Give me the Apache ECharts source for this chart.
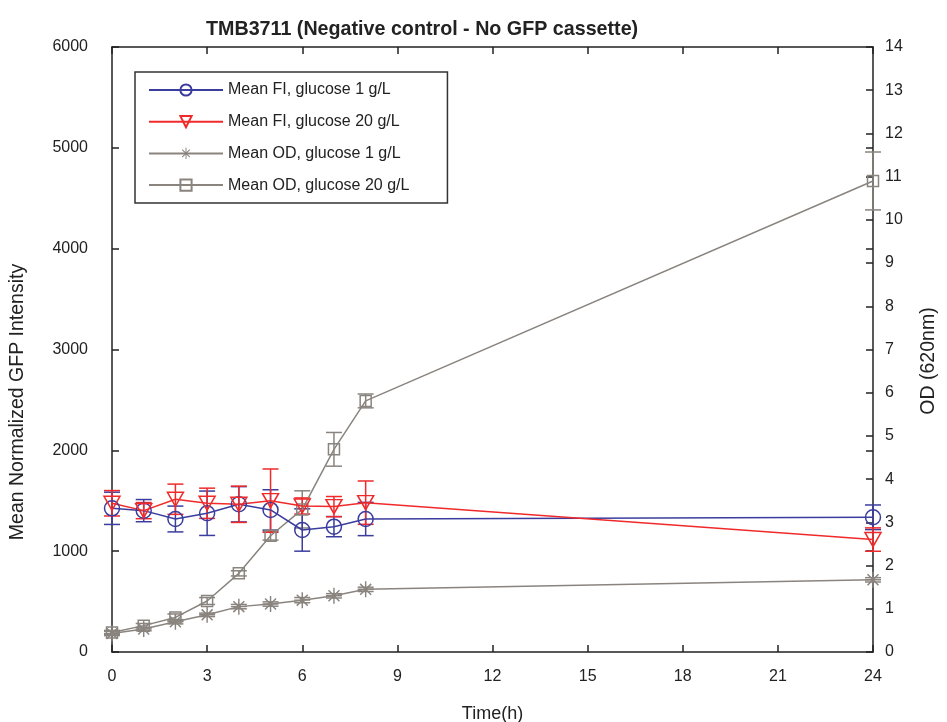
<!DOCTYPE html>
<html>
<head>
<meta charset="utf-8">
<script src="https://cdn.jsdelivr.net/npm/echarts@6/dist/echarts.min.js"></script>
<style>
  html, body { margin: 0; padding: 0; background: #fff; }
  #chart { width: 947px; height: 722px; }
</style>
</head>
<body>
<div id="chart"></div>
<script>
// hours sampled
const time = [0, 1, 2, 3, 4, 5, 6, 7, 8, 24];

// mean fluorescence (left axis) with +/- error
const fi1 = [1425, 1402, 1319, 1376, 1465, 1409, 1210, 1243, 1319, 1336];
const fi1Err = [160, 110, 128, 220, 175, 200, 210, 100, 165, 122];
const fi20 = [1475, 1402, 1515, 1475, 1465, 1501, 1448, 1442, 1481, 1115];
const fi20Err = [126, 80, 150, 150, 180, 314, 80, 100, 215, 116];

// mean OD (right axis) with +/- error
const od1 = [0.43, 0.53, 0.70, 0.86, 1.05, 1.11, 1.20, 1.30, 1.45, 1.67];
const od1Err = [0.05, 0.04, 0.05, 0.04, 0.05, 0.05, 0.06, 0.05, 0.05, 0.05];
const od20 = [0.45, 0.61, 0.80, 1.18, 1.82, 2.69, 3.30, 4.69, 5.81, 10.9];
const od20Err = [0.05, 0.05, 0.08, 0.08, 0.06, 0.10, 0.43, 0.39, 0.16, 0.67];

const blue = "#3b3d9e";
const red = "#f02a2a";
const gray = "#8a847f";
const ink = "#222";
const font = "Liberation Sans, Arial, sans-serif";

const starPath = "path://M0 9.1L20 9.1L20 10.9L0 10.9Z M9.1 0L10.9 0L10.9 20L9.1 20Z " +
  "M2.5 3.8L3.8 2.5L17.5 16.2L16.2 17.5Z M16.2 2.5L17.5 3.8L3.8 17.5L2.5 16.2Z";

const pairs = (vals) => time.map((t, i) => [t, vals[i]]);
const ranges = (vals, errs) => time.map((t, i) => [t, vals[i] - errs[i], vals[i] + errs[i]]);

const errorBars = (color) => (params, api) => {
  const x = api.value(0);
  const lo = api.coord([x, api.value(1)]);
  const hi = api.coord([x, api.value(2)]);
  const w = 8;
  const style = { stroke: color, lineWidth: 1.5 };
  return {
    type: "group",
    children: [
      { type: "line", shape: { x1: lo[0], y1: lo[1], x2: hi[0], y2: hi[1] }, style },
      { type: "line", shape: { x1: lo[0] - w, y1: lo[1], x2: lo[0] + w, y2: lo[1] }, style },
      { type: "line", shape: { x1: hi[0] - w, y1: hi[1], x2: hi[0] + w, y2: hi[1] }, style },
    ],
  };
};

const chart = echarts.init(document.getElementById("chart"));

const axisLine = { show: true, onZero: false, lineStyle: { color: ink, width: 1.5 } };
const tick = { inside: true, length: 7, lineStyle: { color: ink, width: 1.5 } };
const box = { left: 112, right: 74, top: 47, bottom: 70, outerBoundsMode: "none" };

chart.setOption({
  animation: false,
  textStyle: { fontFamily: font },
  title: {
    text: "TMB3711 (Negative control - No GFP cassette)",
    left: 201,
    top: 15,
    textStyle: { fontSize: 19.7, fontWeight: "bold", color: ink, fontFamily: font },
  },
  graphic: [
    {
      type: "text",
      x: 18,
      y: 402,
      rotation: Math.PI / 2,
      style: {
        text: "Mean Normalized GFP Intensity",
        font: "19.5px " + font,
        fill: ink,
        textAlign: "center",
        textVerticalAlign: "middle",
      },
    },
    {
      type: "text",
      x: 929,
      y: 361,
      rotation: Math.PI / 2,
      style: {
        text: "OD (620nm)",
        font: "19.5px " + font,
        fill: ink,
        textAlign: "center",
        textVerticalAlign: "middle",
      },
    },
  ],
  legend: {
    data: [
      "Mean FI, glucose 1 g/L",
      "Mean FI, glucose 20 g/L",
      "Mean OD, glucose 1 g/L",
      "Mean OD, glucose 20 g/L",
    ],
    orient: "vertical",
    left: 135,
    top: 72,
    padding: [10, 38, 10, 13],
    itemWidth: 74,
    itemHeight: 14,
    itemGap: 15.7,
    borderColor: "#333",
    borderWidth: 1.5,
    textStyle: { fontSize: 16, color: ink, fontFamily: font },
  },
  grid: [box, box],
  xAxis: [
    {
      type: "value",
      min: 0,
      max: 24,
      interval: 3,
      name: "Time(h)",
      nameLocation: "middle",
      nameGap: 53,
      nameTextStyle: { fontSize: 18, color: ink },
      axisLine,
      axisTick: tick,
      axisLabel: { fontSize: 16, color: ink, margin: 17 },
      splitLine: { show: false },
    },
    {
      type: "value",
      position: "top",
      min: 0,
      max: 24,
      interval: 3,
      axisLine,
      axisTick: tick,
      axisLabel: { show: false },
      splitLine: { show: false },
    },
    {
      type: "value",
      gridIndex: 1,
      min: 0,
      max: 24,
      show: false,
    },
  ],
  yAxis: [
    {
      type: "value",
      min: 0,
      max: 6000,
      interval: 1000,
      axisLine,
      axisTick: tick,
      axisLabel: { fontSize: 16, color: ink, margin: 24, formatter: (v) => String(v) },
      splitLine: { show: false },
    },
    {
      type: "value",
      position: "right",
      min: 0,
      max: 14,
      interval: 1,
      axisLine,
      axisTick: tick,
      axisLabel: { fontSize: 16, color: ink, margin: 12 },
      splitLine: { show: false },
    },
    {
      // left-scale ticks mirrored on the right edge
      type: "value",
      gridIndex: 1,
      position: "right",
      min: 0,
      max: 6000,
      interval: 1000,
      axisLine: { show: false, onZero: false },
      axisTick: tick,
      axisLabel: { show: false },
      splitLine: { show: false },
    },
  ],
  series: [
    {
      type: "custom",
      yAxisIndex: 1,
      renderItem: errorBars(gray),
      encode: { x: 0, y: [1, 2] },
      data: ranges(od1, od1Err),
      z: 1,
    },
    {
      type: "custom",
      yAxisIndex: 1,
      renderItem: errorBars(gray),
      encode: { x: 0, y: [1, 2] },
      data: ranges(od20, od20Err),
      z: 1,
    },
    {
      type: "custom",
      renderItem: errorBars(blue),
      encode: { x: 0, y: [1, 2] },
      data: ranges(fi1, fi1Err),
      z: 1,
    },
    {
      type: "custom",
      renderItem: errorBars(red),
      encode: { x: 0, y: [1, 2] },
      data: ranges(fi20, fi20Err),
      z: 1,
    },
    {
      name: "Mean OD, glucose 1 g/L",
      type: "line",
      yAxisIndex: 1,
      data: pairs(od1),
      symbol: starPath,
      symbolSize: 16,
      lineStyle: { color: gray, width: 1.5 },
      itemStyle: { color: gray, borderWidth: 0 },
      z: 2,
    },
    {
      name: "Mean OD, glucose 20 g/L",
      type: "line",
      yAxisIndex: 1,
      data: pairs(od20),
      symbol: "rect",
      symbolSize: 11,
      lineStyle: { color: gray, width: 1.5 },
      itemStyle: { color: "transparent", borderColor: gray, borderWidth: 1.5 },
      z: 2,
    },
    {
      name: "Mean FI, glucose 1 g/L",
      type: "line",
      data: pairs(fi1),
      symbol: "circle",
      symbolSize: 15,
      lineStyle: { color: blue, width: 1.5 },
      itemStyle: { color: "transparent", borderColor: blue, borderWidth: 1.5 },
      z: 3,
    },
    {
      name: "Mean FI, glucose 20 g/L",
      type: "line",
      data: pairs(fi20),
      symbol: "triangle",
      symbolRotate: 180,
      symbolSize: [16, 14],
      lineStyle: { color: red, width: 1.5 },
      itemStyle: { color: "transparent", borderColor: red, borderWidth: 1.5 },
      z: 3,
    },
  ],
});
</script>
</body>
</html>
